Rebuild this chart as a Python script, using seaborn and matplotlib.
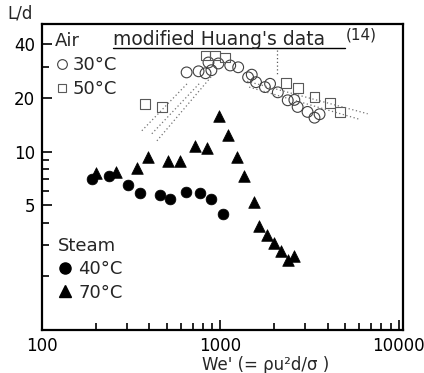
import numpy as np
import pandas as pd
import seaborn as sns
import matplotlib.pyplot as plt
from matplotlib.lines import Line2D
from matplotlib.ticker import FixedLocator, NullFormatter

# Steam 40 C (filled circles)
steam40_we = [191, 239, 305, 353, 456, 525, 641, 774, 888, 1035]
steam40_ld = [7.0, 7.3, 6.5, 5.85, 5.75, 5.45, 5.95, 5.85, 5.45, 4.5]

# Steam 70 C (filled triangles)
steam70_we = [201, 260, 343, 395, 510, 594, 717, 839, 984, 1098, 1232,
              1359, 1545, 1647, 1824, 2003, 2182, 2402, 2594]
steam70_ld = [7.55, 7.67, 8.12, 9.35, 8.83, 8.85, 10.7, 10.5, 15.85, 12.4, 9.35,
              7.29, 5.24, 3.82, 3.41, 3.06, 2.78, 2.48, 2.61]

# Air 30 C (open circles)
air30_we = [647, 755, 826, 891, 858, 975, 1136, 1259, 1431, 1585, 1778,
            2100, 2387, 2712, 3082, 3372, 1500, 1900, 2600, 3600]
air30_ld = [27.8, 28.2, 27.5, 28.6, 31.6, 31.2, 30.4, 29.7, 26.1, 24.5, 23.0,
            21.5, 19.4, 17.8, 16.7, 15.5, 27.0, 24.0, 19.5, 16.2]

# Air 50 C (open squares)
air50_we = [378, 470, 826, 938, 1066, 2326, 2712, 3372, 4137, 4700]
air50_ld = [18.5, 17.8, 34.6, 34.6, 33.7, 24.2, 22.7, 20.2, 18.7, 16.7]

# modified Huang's data: dotted band (start/end of each line)
huang_we = [[363, 661], [413, 772], [441, 900], [1350, 6700], [1450, 6000]]
huang_ld = [[13.1, 24.4], [12.6, 24.4], [11.5, 26.7], [25.1, 16.3], [23.0, 15.2]]

# dotted pointer below the label
pointer_we = [2085, 2085]
pointer_ld = [36.9, 27.4]

x_ticks = [100, 1000, 10000]
y_ticks = [5, 10, 20, 40]

sns.set_theme(style="ticks")
plt.rcParams['font.family'] = ['DejaVu Sans']
plt.rcParams['axes.linewidth'] = 1.6
plt.rcParams['axes.edgecolor'] = 'black'
plt.rcParams['axes.axisbelow'] = False

fig = plt.figure(figsize=(4.24, 3.73), dpi=100)
ax = fig.add_axes([0.099, 0.115, 0.852, 0.821])

for xs, ys in zip(huang_we, huang_ld):
    ax.plot(xs, ys, ls=(0, (1, 2)), color='0.45', lw=0.9)
ax.plot(pointer_we, pointer_ld, ls=(0, (1, 2)), color='0.35', lw=0.9)

sns.scatterplot(x=air30_we, y=air30_ld, ax=ax, marker='o', s=60,
                facecolor='none', edgecolor='0.25', linewidth=0.8)
sns.scatterplot(x=air50_we, y=air50_ld, ax=ax, marker='s', s=50,
                facecolor='none', edgecolor='0.35', linewidth=0.8)
sns.scatterplot(x=steam40_we, y=steam40_ld, ax=ax, marker='o', s=60,
                color='black', edgecolor='black', linewidth=0.5)
sns.scatterplot(x=steam70_we, y=steam70_ld, ax=ax, marker='^', s=70,
                color='black', edgecolor='black', linewidth=0.5)

ax.set_xscale('log')
ax.set_yscale('log')
ax.set_xlim(100, 10600)
ax.set_ylim(1, 52)

ax.xaxis.set_major_locator(FixedLocator(x_ticks))
ax.set_xticklabels([str(v) for v in x_ticks])
ax.yaxis.set_major_locator(FixedLocator(y_ticks))
ax.set_yticklabels([str(v) for v in y_ticks])
ax.xaxis.set_minor_locator(FixedLocator([v * d for d in (100, 1000) for v in range(2, 10)]))
ax.yaxis.set_minor_locator(FixedLocator([2, 3, 4, 6, 7, 8, 9, 30]))
ax.xaxis.set_minor_formatter(NullFormatter())
ax.yaxis.set_minor_formatter(NullFormatter())
ax.tick_params(axis='both', which='both', direction='in', width=1.2,
               labelsize=12, colors='black', top=False, right=False,
               bottom=True, left=True)
ax.tick_params(which='major', length=7, pad=5)
ax.tick_params(which='minor', length=5)

ax.set_xlabel("We' (= \u03c1u\u00b2d/\u03c3 )", fontsize=12)
ax.xaxis.set_label_coords(0.62, -0.085)
fig.text(0.047, 0.965, "L/d", fontsize=12, ha='center', va='center')

ax.text(0.197, 0.948, "modified Huang's data", transform=ax.transAxes,
        fontsize=13.5, ha='left', va='center')
ax.text(0.842, 0.965, "(14)", transform=ax.transAxes, fontsize=11,
        ha='left', va='center')
ax.plot([0.197, 0.839], [0.922, 0.922], transform=ax.transAxes,
        color='black', lw=1.0)

air_handles = [
    Line2D([], [], ls='', marker='o', ms=7, mfc='none', mec='0.25', mew=0.8, label='30°C'),
    Line2D([], [], ls='', marker='s', ms=6, mfc='none', mec='0.35', mew=0.8, label='50°C'),
]
leg1 = ax.legend(handles=air_handles, title='Air', loc='upper left',
                 bbox_to_anchor=(0.035, 0.975), frameon=False, fontsize=13,
                 title_fontsize=13, handletextpad=0.2, handlelength=0.8,
                 labelspacing=0.35, borderpad=0, borderaxespad=0, alignment='left')
ax.add_artist(leg1)

steam_handles = [
    Line2D([], [], ls='', marker='o', ms=8, color='black', label='40°C'),
    Line2D([], [], ls='', marker='^', ms=8, color='black', label='70°C'),
]
ax.legend(handles=steam_handles, title='Steam', loc='upper left',
          bbox_to_anchor=(0.045, 0.305), frameon=False, fontsize=13,
          title_fontsize=13, handletextpad=0.3, handlelength=0.8,
          labelspacing=0.3, borderpad=0, borderaxespad=0, alignment='left')

fig.savefig('out.png', dpi=100)
